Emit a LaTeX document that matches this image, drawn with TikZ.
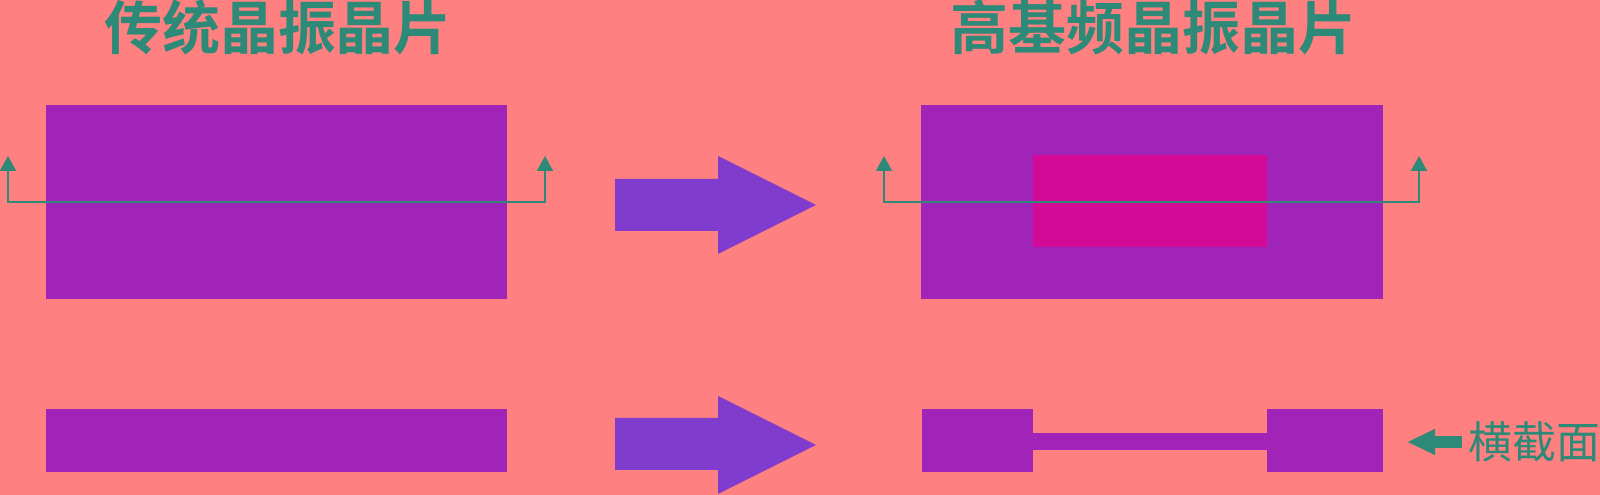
\documentclass[tikz,border=0pt]{standalone}
\usepackage{fontspec}
\newfontfamily\cjk[BoldFont={Noto Sans CJK SC Bold}]{Noto Sans CJK SC}
\usetikzlibrary{arrows.meta}

\definecolor{bgpink}{HTML}{FF8080}
\definecolor{plate}{HTML}{A024B8}
\definecolor{core}{HTML}{D20A96}
\definecolor{flow}{HTML}{803CCC}
\definecolor{ink}{HTML}{2E8A78}

\tikzset{
  blank/.style={fill=plate, draw=none, inner sep=0, outer sep=0},
  title/.style={text=ink, font=\cjk\bfseries\fontsize{16.5}{18}\selectfont, inner sep=0},
  cut/.style={ink, line width=0.55pt, {Triangle[length=0.15cm,width=0.16cm]}-{Triangle[length=0.15cm,width=0.16cm]}}
}

\begin{document}
\begin{tikzpicture}
\fill[bgpink] (0,0) rectangle (16,4.95);
\useasboundingbox (0,0) rectangle (16,4.95);

% Titles
\node[title] (tl) at (2.78,4.68) {传统晶振晶片};
\node[title] (tr) at (11.53,4.68) {高基频晶振晶片};

% Top row: plan view
\node[blank, minimum width=4.61cm, minimum height=1.94cm] (oldtop) at (2.765,2.93) {};
\node[blank, minimum width=4.62cm, minimum height=1.94cm] (newtop) at (11.52,2.93) {};
\node[blank, fill=core, minimum width=2.34cm, minimum height=0.92cm] (pit) at (11.50,2.94) {};

% Cut lines
\coordinate (c1) at (0.08,3.39);
\coordinate (c2) at (5.45,3.39);
\draw[cut] (c1) |- (2.765,2.93) -| (c2);
\coordinate (c3) at (8.84,3.39);
\coordinate (c4) at (14.19,3.39);
\draw[cut] (c3) |- (11.52,2.93) -| (c4);

% Big arrows
\fill[flow] (6.15,3.16) -- (7.18,3.16) -- (7.18,3.39) -- (8.16,2.90) -- (7.18,2.41) -- (7.18,2.64) -- (6.15,2.64) -- cycle;
\fill[flow] (6.15,0.77) -- (7.18,0.77) -- (7.18,0.99) -- (8.16,0.50) -- (7.18,0.01) -- (7.18,0.25) -- (6.15,0.25) -- cycle;

% Bottom row: cross section
\node[blank, minimum width=4.61cm, minimum height=0.63cm] (oldsec) at (2.765,0.545) {};
\node[blank, minimum width=1.11cm, minimum height=0.63cm] (lfoot) at (9.775,0.545) {};
\node[blank, minimum width=1.16cm, minimum height=0.63cm] (rfoot) at (13.25,0.545) {};
\node[blank, minimum width=2.36cm, minimum height=0.17cm] (web) at (11.50,0.535) {};

% Label
\node[anchor=west, text=ink, inner sep=0, font=\cjk\fontsize{12.5}{14}\selectfont] (lab) at (14.68,0.53) {横截面};
\coordinate (labtip) at (14.07,0.53);
\draw[ink, line width=0.12cm, -{Triangle[length=0.28cm,width=0.24cm]}] (lab.west) ++(-0.06,0) -- (labtip);
\end{tikzpicture}
\end{document}
